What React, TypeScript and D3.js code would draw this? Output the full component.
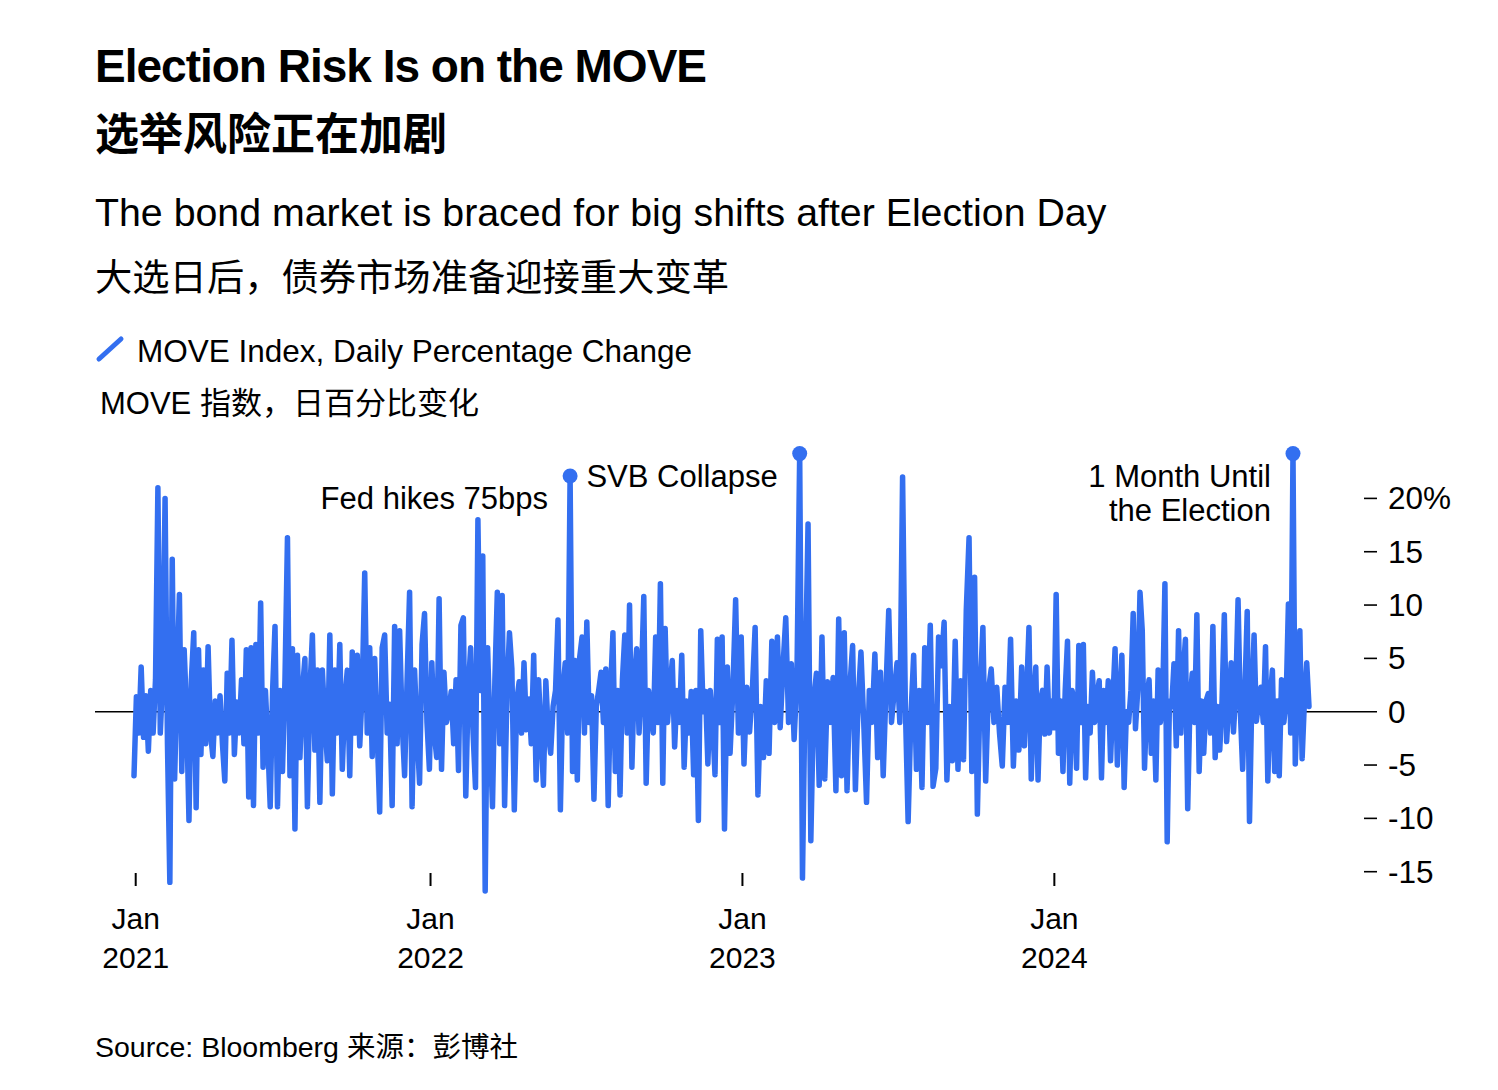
import React from "react";
import * as d3 from "d3";

// ---------- DATA (MOVE Index, daily % change) ----------
// Period boundaries; each values list below is spread over its period.
const periodBounds = [
  "2021-01-19", "2021-07-03", "2021-12-25", "2022-06-19", "2022-12-11",
  "2023-06-05", "2023-11-27", "2024-05-20", "2024-10-25",
];

const values2021H1 = [-6, 1.4, -2, 4.2, -2.4, 1.5, -3.7, 2, -2, 3, 21, -2, 3, 20, -3, -16, 14.3, -6.3, 3, 11, -5.6, 5.8, 0, -10.2, 3, 7.4, -9, 5.8, -4, 3.9, -3, 6.1, -2, -4.2, 1, -2, 1.5, -3, -6.5, 3.6, -2, 6.7, -4, 0.9, -2, 3, -3, 5.8, -8, 6, -8.8, 6.3, -2, 10.2, -5.2, 2, -3, -8.9, 2];
const values2021H2 = [8, -8.9, 2, -5.6, 3, 16.3, -6, 5.9, -11, 5.3, -4.3, 2, 5, -8.9, 2, 7.2, -3.6, 3.9, -8.5, 3.9, -1, -4.6, 7.2, -7.7, 3.9, -2, 6.3, -5.4, 1, 3.9, -6, 5.6, -2, 5.3, -3.2, 2, 13, -2, 6, -4.2, 5, -2, -9.4, 6, 7.2, -2, 0.7, -8.8, 8, -3, 7.6, -1, -6, 3, 11.2, -8.9, 3.9, -2, -6.7, 6.3];
const values2022H1 = [9.2, -1, -5.4, 4.6, -2, -4.3, 10.6, -5.4, 3.7, -1, 0, 1.9, -3, 3, -5.5, 8.1, 8.8, -7.9, 2, 6, -2, -7.1, 18, 2, 14.6, -16.8, 6, -2, -8.9, 3, 11.2, -3, 10.9, -8.8, 2, 7.4, 4, -9.2, 1, 2.8, -2, 4.6, -1.7, 1.2, -3, 5.3, -6.4, 3, -2, -6.9, 2.9, -2, -3.9, 0.5, 2, 8.6, -9.2, 2, 4.6, -2, 22.1, -5.6];
const values2022H2 = [4.8, -6.4, 5.1, 7, -2, 8.4, -1, 1.5, -8.2, 0.5, 2, 3.7, -1, 4, -8.8, 2, 7.4, -5.6, 2, -7.8, 3, 7.2, -2, 10, -5.2, 3, 5.9, -2, 3, 10.8, -6.7, 2, 0, -2, 7, -1, 12, -6.7, 7.8, -1, 2, 4.8, -3.3, 2, -1, 5.3, -5.2, 1, -2, 1.9, -5.9, 2, -10.2, 7.6, 0, 1.9, -4.9, 2, -1, -5.9, 6.8, -1, 7];
const values2023H1 = [-11, 4.2, -3.9, 2, 10.5, -2, 7, -4.9, 2.3, -1.9, 2, 7.9, -7.8, 0.5, -4.3, 2.9, -3.9, 6.6, -1, 7, -1.5, 4.2, 8.8, -1, 4.5, -2.6, 3, 24.2, -15.6, 3, 17.6, -12.1, 1, 3.6, -6.9, 7, -6.3, 2.8, -1, 3.2, -7.4, 8.7, -6, 7.4, -7.4, 2.3, 6.2, -7.3, 1, 5.6, -1, -8.5, 2, -1];
const values2023H2 = [5.4, -4.3, 3.7, -6, 2, 9.5, -1, 2, 4.6, -1, 22, 0.5, -10.3, -0.5, 5.3, -5.4, 2, -7.1, 6, -1, 8.1, -7, -5.3, 7, 4.3, 8.4, -6.4, 0.5, -4.6, 6.6, -5.4, 2.9, -4.5, 9.5, 16.3, -5.6, 12.6, -9.6, 2, 7.9, -6.5, 2, 4, -1, 2.3, -2, -5.1, 2.3, -1, 6.8, -5.1, 1, -3.6, 4.2];
const values2024H1 = [-3.2, 2, 7.9, -6.3, 1, 4.2, -6.4, 1, 2, -2.1, 4.2, -2, 1, -1.5, 11, -3.9, 1, -5.6, 2, 6.6, -6.7, 2, 1, -5.3, 6.2, -1, 6.3, -6.2, 0.5, -2, 3.7, -1, 1.5, 2.9, -6.2, 2, -1, 2.9, -4.6, 1, 5.9, -5, 1, 5.3, -7.1, 0, -1, 2, 9.2, -1.6, 2, 11.2, 7.6, -5.3, 1, 3, -3.9, 1, -6.4, 3.9, -1, 1, 12, -12.2, 1, 0.5];
const values2024H2 = [4.5, -3.2, 7.6, -2, 3.6, 6.8, -9.1, 1, 3.6, -1, 9.1, -5.6, 1, -3.9, 1, 1.7, -2, 8, -4.3, 0.5, -3.6, 1, 9.1, -2.8, 1, 4.6, -1.9, 2, 10.5, 0, -5.4, 2, 9.4, -10.3, 1, 7.2, -0.9, 1, 2.3, -1, 6.1, -6.5, 1, 3.9, -5.6, 1, -6, 3, -1, 1, 10.1, -2, 24.2, -4.9, 2, 7.6, -4.4, 1, 4.6, 0.5];

const periodValues = [values2021H1, values2021H2, values2022H1, values2022H2, values2023H1, values2023H2, values2024H1, values2024H2];

const yTickValues = [20, 15, 10, 5, 0, -5, -10, -15];
const xTickDates = ["2021-01-21", "2022-01-01", "2023-01-01", "2024-01-01"];
const xTickMonths = ["Jan", "Jan", "Jan", "Jan"];
const xTickYears = ["2021", "2022", "2023", "2024"];

const annotationDates = ["2022-06-13", "2023-03-13", "2024-10-08"];
const annotationLabels = [["Fed hikes 75bps"], ["SVB Collapse"], ["1 Month Until", "the Election"]];

// ---------- CHART ----------
const BLUE = "#336ff0";
const LATIN = "'Liberation Sans', Arial, Helvetica, sans-serif";
const MIXED = "'Liberation Sans', Arial, 'Noto Sans CJK SC', sans-serif";
const CJK = "'Noto Sans CJK SC', 'Liberation Sans', sans-serif";

const parse = (s: string) => new Date(s + "T00:00:00Z");

type Pt = { date: Date; value: number };

function buildPoints(): Pt[] {
  const pts: Pt[] = [];
  periodValues.forEach((vals, s) => {
    const t0 = parse(periodBounds[s]).getTime();
    const t1 = parse(periodBounds[s + 1]).getTime();
    const last = s === periodValues.length - 1;
    const denom = last ? vals.length - 1 : vals.length;
    vals.forEach((v, j) => {
      pts.push({ date: new Date(t0 + ((t1 - t0) * j) / denom), value: v });
    });
  });
  return pts;
}

export default function App() {
  const W = 1498;
  const H = 1090;
  const points = buildPoints();

  const x = d3
    .scaleUtc()
    .domain([parse(periodBounds[0]), parse(periodBounds[periodBounds.length - 1])])
    .range([134, 1309]);
  const y = d3.scaleLinear().domain([-15, 20]).range([871.7, 498.4]);

  const line = d3
    .line<Pt>()
    .x((d) => x(d.date))
    .y((d) => y(d.value));

  const annotated = annotationDates.map((ds, i) => {
    const t = parse(ds).getTime();
    const near = points.filter((p) => Math.abs(p.date.getTime() - t) < 14 * 86400000);
    const best = near.reduce((a, b) => (b.value > a.value ? b : a), near[0]);
    return { p: best, lines: annotationLabels[i] };
  });

  return (
    <svg
      width={W}
      height={H}
      viewBox={`0 0 ${W} ${H}`}
      style={{ position: "absolute", left: 0, top: 0, display: "block", background: "#fff" }}
    >
      <rect x={0} y={0} width={W} height={H} fill="#fff" />

      {/* Titles */}
      <text x={95} y={82} fontFamily={LATIN} fontWeight={700} fontSize={46} letterSpacing={-1} fill="#000">
        Election Risk Is on the MOVE
      </text>
      <text x={95} y={150} fontFamily={CJK} fontWeight={700} fontSize={44} fill="#000">
        选举风险正在加剧
      </text>
      <text x={95} y={226} fontFamily={LATIN} fontSize={39.3} fill="#000">
        The bond market is braced for big shifts after Election Day
      </text>
      <text x={95} y={291} fontFamily={CJK} fontSize={37.3} fill="#000">
        大选日后，债券市场准备迎接重大变革
      </text>

      {/* Legend */}
      <line x1={99} y1={359} x2={121} y2={339} stroke={BLUE} strokeWidth={5} strokeLinecap="round" />
      <text x={137} y={362} fontFamily={LATIN} fontSize={31.5} fill="#000">
        MOVE Index, Daily Percentage Change
      </text>
      <text x={100} y={414} fontFamily={MIXED} fontSize={31} fill="#000">
        MOVE 指数，日百分比变化
      </text>

      {/* Zero line */}
      <line x1={95} x2={1377} y1={y(0)} y2={y(0)} stroke="#000" strokeWidth={1.6} />

      {/* Y axis ticks + labels */}
      {yTickValues.map((v) => (
        <g key={v}>
          {v !== 0 && <line x1={1364} x2={1377} y1={y(v)} y2={y(v)} stroke="#000" strokeWidth={1.6} />}
          <text x={1388} y={y(v) + 11} fontFamily={LATIN} fontSize={31.5} fill="#000">
            {v === 20 ? "20%" : String(v)}
          </text>
        </g>
      ))}

      {/* X axis ticks + labels */}
      {xTickDates.map((ds, i) => {
        const xx = x(parse(ds));
        return (
          <g key={ds}>
            <line x1={xx} x2={xx} y1={873} y2={886} stroke="#000" strokeWidth={2} />
            <text x={xx} y={929} textAnchor="middle" fontFamily={LATIN} fontSize={30} fill="#000">
              {xTickMonths[i]}
            </text>
            <text x={xx} y={968} textAnchor="middle" fontFamily={LATIN} fontSize={30} fill="#000">
              {xTickYears[i]}
            </text>
          </g>
        );
      })}

      {/* Data line */}
      <path
        d={line(points) || ""}
        fill="none"
        stroke={BLUE}
        strokeWidth={5.5}
        strokeLinejoin="round"
        strokeLinecap="round"
      />

      {/* Annotations */}
      {annotated.map((a, i) => {
        const cx = x(a.p.date);
        const cy = y(a.p.value);
        return (
          <g key={i}>
            <circle cx={cx} cy={cy} r={7.5} fill={BLUE} />
            {a.lines.map((t, k) => (
              <text
                key={k}
                x={cx - 22}
                y={cy + 33 + k * 34}
                textAnchor="end"
                fontFamily={LATIN}
                fontSize={31}
                fill="#000"
              >
                {t}
              </text>
            ))}
          </g>
        );
      })}

      {/* Source */}
      <text x={95} y={1057} fontFamily={MIXED} fontSize={28.5} fill="#000">
        Source: Bloomberg 来源：彭博社
      </text>
    </svg>
  );
}
